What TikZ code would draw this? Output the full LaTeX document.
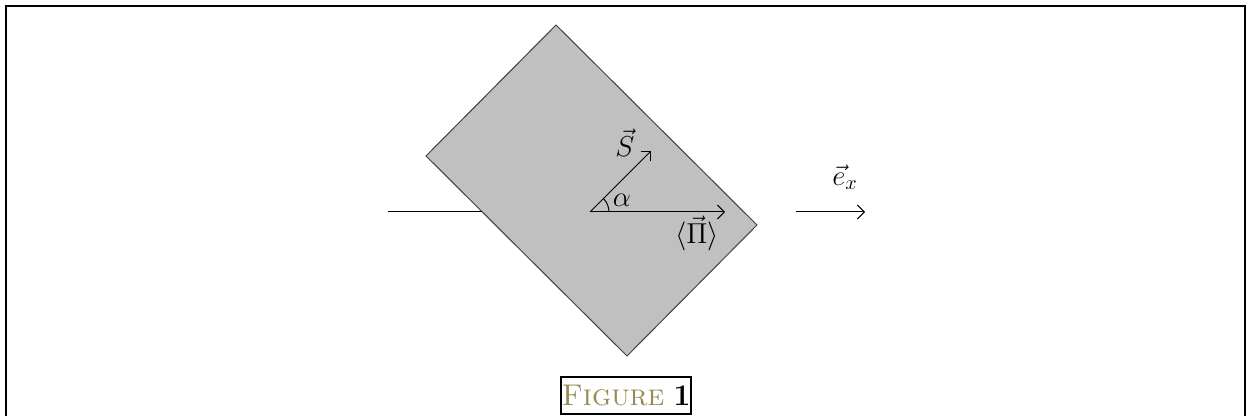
\documentclass[tikz,border=0pt]{standalone}
\usetikzlibrary{arrows.meta}
\definecolor{platecol}{RGB}{192,192,192}
\definecolor{capcol}{RGB}{148,138,84}
\tikzset{
  vec/.style={line width=0.5pt,-{Straight Barb[length=3.5pt,width=7pt,line width=0.5pt]}},
  plain/.style={line width=0.5pt},
  lbl/.style={inner sep=0pt,font=\fontsize{14}{16}\selectfont},
}
\begin{document}
\begin{tikzpicture}[x=0.5pt,y=-0.5pt]
\useasboundingbox (0,0) rectangle (1246,416);
% frame (open at bottom)
\draw[line width=1pt] (6,420) -- (6,6) -- (1245,6) -- (1245,420);
% plate
\coordinate (T) at (556,25);
\coordinate (Lc) at (426,156);
\coordinate (B) at (627,356);
\coordinate (R) at (757,225);
\draw[plain,fill=platecol,draw=black!75] (T) -- (R) -- (B) -- (Lc) -- cycle;
% incoming line
\coordinate (in0) at (388,212);
\coordinate (in1) at (482,212);
\draw[plain] (in0) -- (in1);
% vectors
\coordinate (O) at (590,212);
\coordinate (Ptip) at (725,212);
\coordinate (Stip) at (651,151);
\draw[vec] (O) -- (Ptip);
\draw[vec] (O) -- (Stip);
\draw[plain] ([xshift=9.5pt]O) arc[start angle=0,end angle=45,radius=9.5pt];
\node[lbl] (Slbl) at (625,143) {$\vec{S}$};
\node[lbl] (alpha) at (622,200) {$\alpha$};
\node[lbl] (Pi) at (697,233) {$\langle\vec{\Pi}\rangle$};
% e_x
\coordinate (e0) at (796,212);
\coordinate (e1) at (865,212);
\draw[vec] (e0) -- (e1);
\node[lbl] (ex) at (845,177) {$\vec{e}_x$};
% caption
\node[draw,line width=1pt,inner sep=0pt,minimum width=65pt,minimum height=18.5pt,
  font=\fontsize{15}{17}\selectfont] (cap) at (626,395.5)
  {\textcolor{capcol}{\textsc{Figure}}~\textbf{1}};
\end{tikzpicture}
\end{document}
